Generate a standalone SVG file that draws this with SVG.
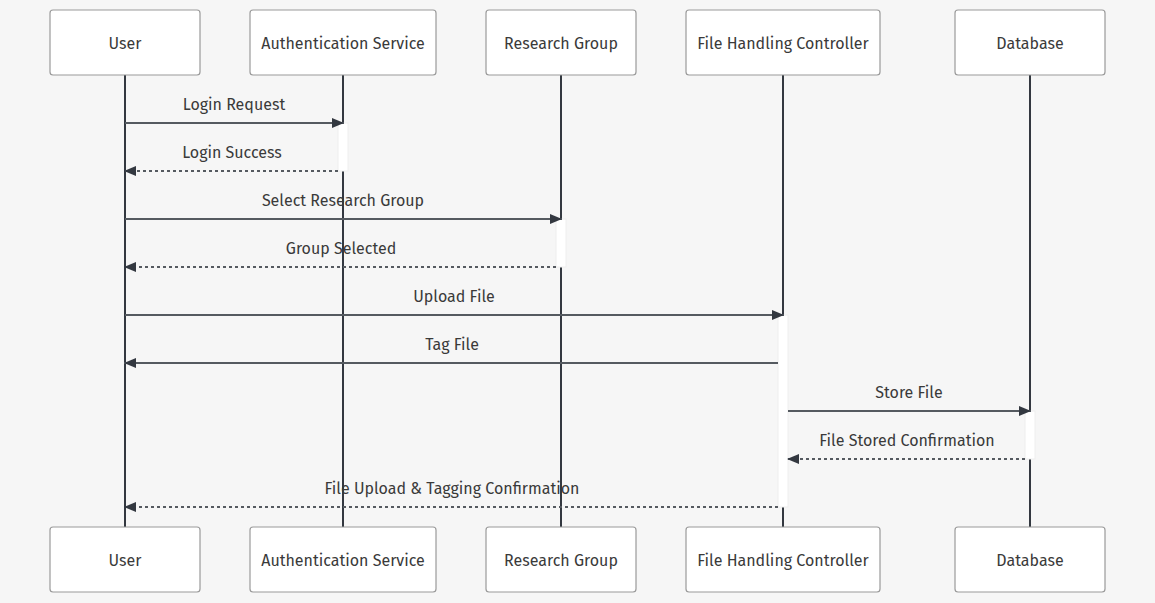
<svg xmlns="http://www.w3.org/2000/svg" width="1155" height="603" viewBox="0 0 1155 603">
<defs>
<style>
.actor{fill:#ffffff;stroke:#9a9a9a;stroke-width:1.2}
.atext{font-family:"Fira Sans","Open Sans","Noto Sans",sans-serif;font-size:16px;font-weight:400;fill:#3a3a3a;text-anchor:middle;dominant-baseline:central}
.life{stroke:#333840;stroke-width:2}
.act{fill:#ffffff;stroke:#eeeeee;stroke-width:1}
.msg{stroke:#555a60;stroke-width:2;fill:none}
.dash{stroke-dasharray:3,3}
.mtext{font-family:"Fira Sans","Open Sans","Noto Sans",sans-serif;font-size:16px;font-weight:400;fill:#3a3a3a;text-anchor:middle}
</style>
<marker id="ah" viewBox="0 0 12 10" refX="12" refY="5" markerWidth="12" markerHeight="10" markerUnits="userSpaceOnUse" orient="auto">
<path d="M0,0 L12,5 L0,10 z" fill="#333840"/>
</marker>
</defs>
<rect width="1155" height="603" fill="#f6f6f6"/>
<g id="lifelines">
<line class="life" x1="125" y1="75" x2="125" y2="527"/>
<line class="life" x1="343" y1="75" x2="343" y2="527"/>
<line class="life" x1="561" y1="75" x2="561" y2="527"/>
<line class="life" x1="783" y1="75" x2="783" y2="527"/>
<line class="life" x1="1030" y1="75" x2="1030" y2="527"/>
</g>
<g id="activations">
<rect class="act" x="338" y="123" width="10" height="48"/>
<rect class="act" x="556" y="219" width="10" height="48"/>
<rect class="act" x="778" y="315" width="10" height="192"/>
<rect class="act" x="1025" y="411" width="10" height="48"/>
</g>
<g id="actor-user-top"><rect class="actor" x="50" y="10" width="150" height="65" rx="3"/><text class="atext" x="125" y="43">User</text></g>
<g id="actor-auth-top"><rect class="actor" x="250" y="10" width="186" height="65" rx="3"/><text class="atext" x="343" y="43">Authentication Service</text></g>
<g id="actor-rg-top"><rect class="actor" x="486" y="10" width="150" height="65" rx="3"/><text class="atext" x="561" y="43">Research Group</text></g>
<g id="actor-fhc-top"><rect class="actor" x="686" y="10" width="194" height="65" rx="3"/><text class="atext" x="783" y="43">File Handling Controller</text></g>
<g id="actor-db-top"><rect class="actor" x="955" y="10" width="150" height="65" rx="3"/><text class="atext" x="1030" y="43">Database</text></g>
<g id="actor-user-bottom"><rect class="actor" x="50" y="527" width="150" height="65" rx="3"/><text class="atext" x="125" y="560">User</text></g>
<g id="actor-auth-bottom"><rect class="actor" x="250" y="527" width="186" height="65" rx="3"/><text class="atext" x="343" y="560">Authentication Service</text></g>
<g id="actor-rg-bottom"><rect class="actor" x="486" y="527" width="150" height="65" rx="3"/><text class="atext" x="561" y="560">Research Group</text></g>
<g id="actor-fhc-bottom"><rect class="actor" x="686" y="527" width="194" height="65" rx="3"/><text class="atext" x="783" y="560">File Handling Controller</text></g>
<g id="actor-db-bottom"><rect class="actor" x="955" y="527" width="150" height="65" rx="3"/><text class="atext" x="1030" y="560">Database</text></g>
<g id="messages">
<line class="msg" x1="125" y1="123" x2="344" y2="123" marker-end="url(#ah)"/>
<text class="mtext" x="234" y="110">Login Request</text>
<line class="msg dash" x1="338" y1="171" x2="124" y2="171" marker-end="url(#ah)"/>
<text class="mtext" x="232" y="158">Login Success</text>
<line class="msg" x1="125" y1="219" x2="562" y2="219" marker-end="url(#ah)"/>
<text class="mtext" x="343" y="206">Select Research Group</text>
<line class="msg dash" x1="556" y1="267" x2="124" y2="267" marker-end="url(#ah)"/>
<text class="mtext" x="341" y="254">Group Selected</text>
<line class="msg" x1="125" y1="315" x2="784" y2="315" marker-end="url(#ah)"/>
<text class="mtext" x="454" y="302">Upload File</text>
<line class="msg" x1="778" y1="363" x2="124" y2="363" marker-end="url(#ah)"/>
<text class="mtext" x="452" y="350">Tag File</text>
<line class="msg" x1="788" y1="411" x2="1031" y2="411" marker-end="url(#ah)"/>
<text class="mtext" x="909" y="398">Store File</text>
<line class="msg dash" x1="1025" y1="459" x2="787" y2="459" marker-end="url(#ah)"/>
<text class="mtext" x="907" y="446">File Stored Confirmation</text>
<line class="msg dash" x1="778" y1="507" x2="124" y2="507" marker-end="url(#ah)"/>
<text class="mtext" x="452" y="494">File Upload &amp; Tagging Confirmation</text>
</g>
</svg>
